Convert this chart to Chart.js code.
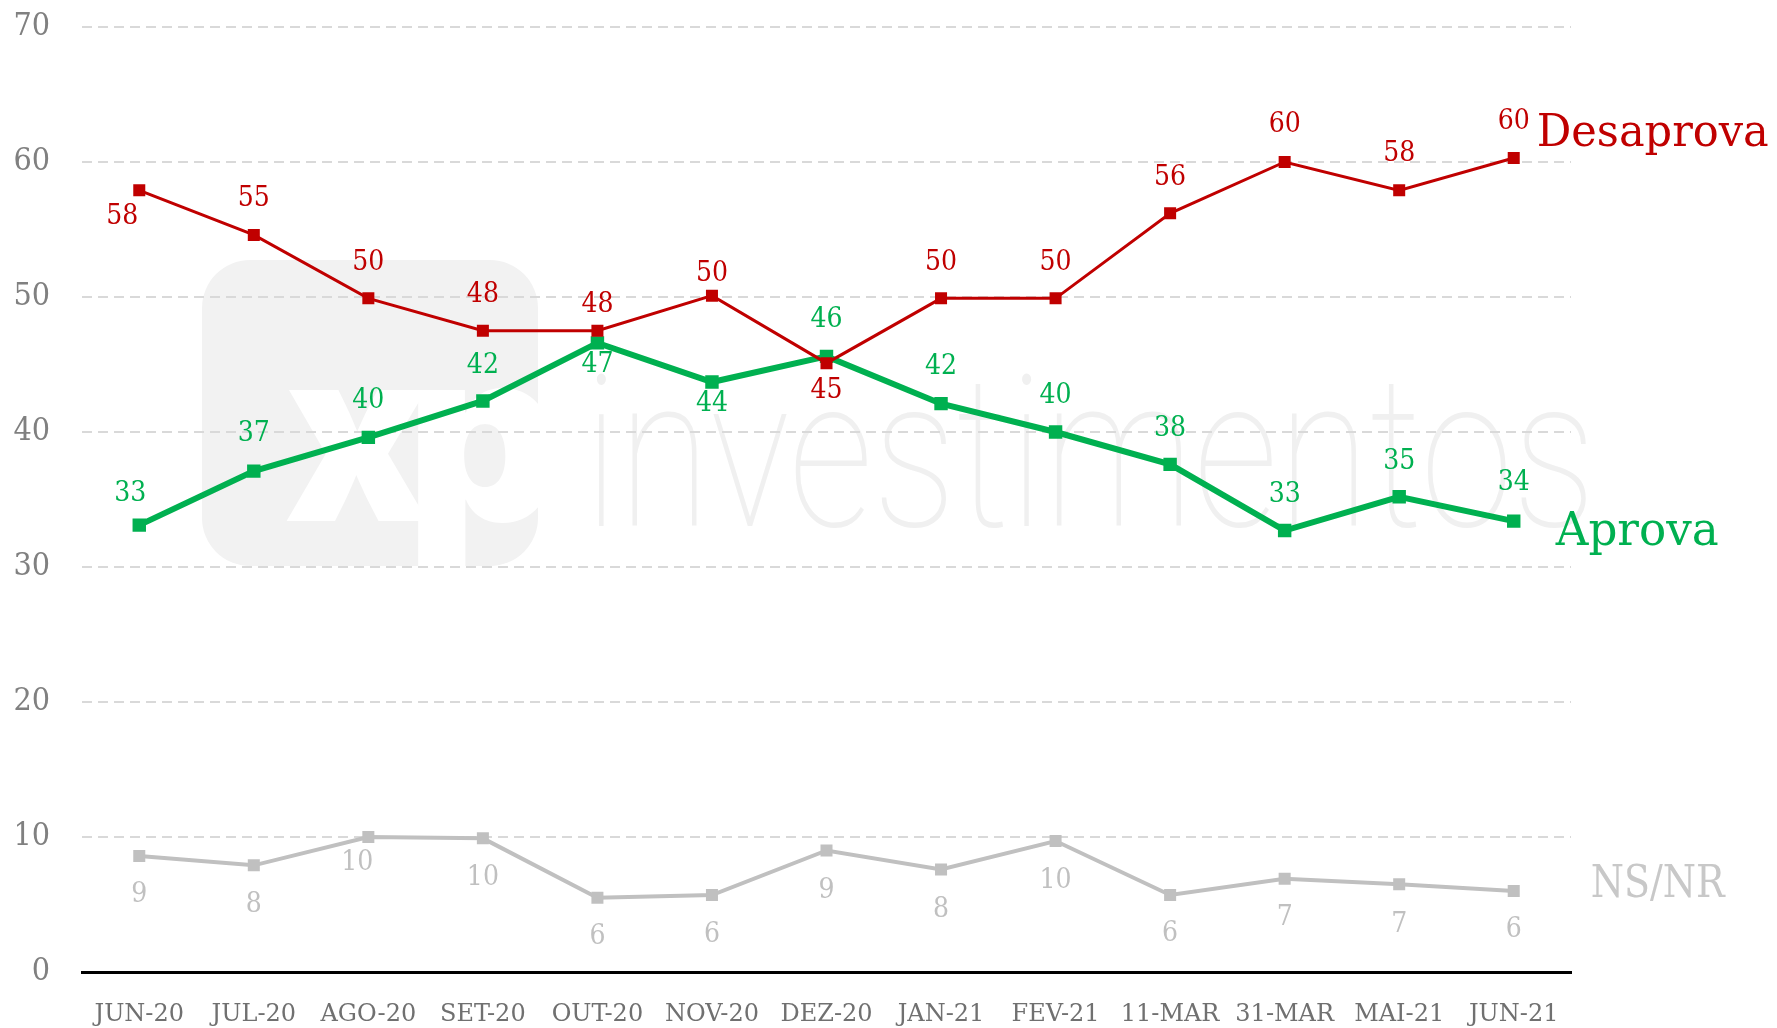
<!DOCTYPE html>
<html lang="pt">

<head>
    <meta charset="UTF-8">
    <script src="https://cdn.jsdelivr.net/npm/chart.js@4.4.0/dist/chart.umd.min.js"></script>
    <title>Aprova / Desaprova</title>
    <style>
        html, body {
            margin: 0;
            padding: 0;
            background: #fff;
        }

        div {
            width: 1777px;
            height: 1028px;
        }
    </style>
</head>

<body>
    <div>
        <canvas id="results"></canvas>
    </div>
</body>
<script>
    const categories = ["JUN-20", "JUL-20", "AGO-20", "SET-20", "OUT-20", "NOV-20", "DEZ-20", "JAN-21", "FEV-21", "11-MAR", "31-MAR", "MAI-21", "JUN-21"];

    // valores (posição dos pontos) e rótulos publicados
    const desaprova = [57.9, 54.6, 49.9, 47.5, 47.5, 50.1, 45.1, 49.9, 49.9, 56.2, 60.0, 57.9, 60.3];
    const aprova = [33.1, 37.1, 39.6, 42.3, 46.6, 43.7, 45.6, 42.1, 40.0, 37.6, 32.7, 35.2, 33.4];
    const nsnr = [8.6, 7.9, 10.0, 9.9, 5.5, 5.7, 9.0, 7.6, 9.7, 5.7, 6.9, 6.5, 6.0];

    const desaprovaLabels = [58, 55, 50, 48, 48, 50, 45, 50, 50, 56, 60, 58, 60];
    const aprovaLabels = [33, 37, 40, 42, 47, 44, 46, 42, 40, 38, 33, 35, 34];
    const nsnrLabels = [9, 8, 10, 10, 6, 6, 9, 8, 10, 6, 7, 7, 6];

    const yTicks = [0, 10, 20, 30, 40, 50, 60, 70];

    const SERIF = "'DejaVu Serif Condensed', 'DejaVu Serif', serif";
    const SERIF_WIDE = "'DejaVu Serif', serif";

    // onde fica cada rótulo em relação ao ponto: [dx, dy]
    const labelOffsets = [
        [[-17, 26], [0, -36], [0, -36], [0, -36], [0, -26], [0, -22], [0, 28], [0, -36], [0, -36], [0, -36], [0, -37], [0, -37], [0, -36]],
        [[-9, -31], [0, -37], [0, -37], [0, -35], [0, 22], [0, 22], [0, -37], [0, -37], [0, -36], [0, -36], [0, -36], [0, -35], [0, -38]],
        [[0, 39], [0, 39], [-11, 26], [0, 39], [0, 39], [0, 40], [0, 40], [0, 40], [0, 40], [0, 39], [0, 39], [0, 40], [0, 39]]
    ];

    const watermark = {
        id: 'watermark',
        beforeDraw(chart) {
            const c = chart.ctx;
            c.save();
            c.fillStyle = '#f2f2f2';
            c.beginPath();
            c.roundRect(202, 260, 336, 306, 48);
            c.fill();
            c.clip();
            c.fillStyle = '#fff';
            c.font = "900 240px Inter, Roboto, sans-serif";
            c.letterSpacing = '-24px';
            c.textBaseline = 'alphabetic';
            c.fillText('xp', 284, 521);
            c.restore();

            c.save();
            c.fillStyle = '#f0f0f0';
            c.font = "100 212px Roboto, 'Open Sans', sans-serif";
            c.textBaseline = 'alphabetic';
            c.fillText('investimentos', 584, 526, 1012);
            c.restore();
        }
    };

    const pointLabels = {
        id: 'pointLabels',
        afterDatasetsDraw(chart) {
            const c = chart.ctx;
            const all = [desaprovaLabels, aprovaLabels, nsnrLabels];
            c.save();
            c.textAlign = 'center';
            c.textBaseline = 'middle';
            chart.data.datasets.forEach((ds, i) => {
                const meta = chart.getDatasetMeta(i);
                c.fillStyle = ds.labelColor;
                c.font = "28px " + SERIF;
                meta.data.forEach((pt, j) => {
                    const off = labelOffsets[i][j];
                    c.fillText(String(all[i][j]), pt.x + off[0], pt.y + off[1]);
                });
            });
            c.restore();
        },
        afterDraw(chart) {
            const c = chart.ctx;
            c.save();
            c.textAlign = 'left';
            c.textBaseline = 'alphabetic';
            chart.data.datasets.forEach((ds, i) => {
                const meta = chart.getDatasetMeta(i);
                const last = meta.data[meta.data.length - 1];
                c.fillStyle = ds.nameColor;
                c.font = ds.nameFont;
                c.fillText(ds.label, last.x + ds.nameOffset[0], last.y + ds.nameOffset[1], ds.nameWidth);
            });
            c.restore();
        }
    };

    const ctx = document.getElementById('results').getContext('2d');
    const chart = new Chart(ctx, {
        type: 'line',

        data: {
            labels: categories,
            datasets: [{
                label: 'Desaprova',
                data: desaprova,
                borderColor: '#c00000',
                backgroundColor: '#c00000',
                borderWidth: 3,
                pointStyle: 'rect',
                pointRadius: 8.5,
                pointBorderWidth: 0,
                labelColor: '#c00000',
                nameColor: '#c00000',
                nameFont: "45px " + SERIF_WIDE,
                nameOffset: [23, -12],
                nameWidth: 232,
            }, {
                label: 'Aprova',
                data: aprova,
                borderColor: '#00b050',
                backgroundColor: '#00b050',
                borderWidth: 6,
                pointStyle: 'rect',
                pointRadius: 9.5,
                pointBorderWidth: 0,
                labelColor: '#00b050',
                nameColor: '#00b050',
                nameFont: "46px " + SERIF_WIDE,
                nameOffset: [42, 24],
                nameWidth: 163,
            }, {
                label: 'NS/NR',
                data: nsnr,
                borderColor: '#c0c0c0',
                backgroundColor: '#c0c0c0',
                borderWidth: 4,
                pointStyle: 'rect',
                pointRadius: 8.5,
                pointBorderWidth: 0,
                labelColor: '#c0c0c0',
                nameColor: '#c8c8c8',
                nameFont: "44px " + SERIF,
                nameOffset: [77, 6],
                nameWidth: 134,
            }]
        },

        options: {
            responsive: true,
            maintainAspectRatio: false,
            animation: false,
            layout: {
                padding: { top: 0, right: 206, left: 0, bottom: 0 }
            },
            plugins: {
                legend: { display: false },
                tooltip: { enabled: false }
            },
            elements: {
                line: { tension: 0 }
            },
            scales: {
                x: {
                    offset: true,
                    grid: { display: false },
                    border: { display: true, color: '#000', width: 3 },
                    ticks: {
                        color: '#707070',
                        font: { family: SERIF_WIDE, size: 24 },
                        padding: 20,
                        maxRotation: 0,
                        autoSkip: false
                    },
                    afterFit(scale) { scale.height = 56; }
                },
                y: {
                    min: 0,
                    max: 70,
                    afterBuildTicks(scale) { scale.ticks = yTicks.map(v => ({ value: v })); },
                    grid: {
                        color: (c) => c.tick && c.tick.value === 0 ? 'rgba(0,0,0,0)' : '#d9d9d9',
                        lineWidth: 2,
                        drawTicks: false
                    },
                    border: { display: false, dash: [10, 6] },
                    ticks: {
                        color: '#808080',
                        font: { family: SERIF, size: 32 },
                        padding: 32
                    },
                    afterFit(scale) {
                        scale.width = 82;
                        scale.paddingTop = 27;
                        scale.paddingBottom = 0;
                    }
                }
            }
        },
        plugins: [watermark, pointLabels]
    });
</script>

</html>
